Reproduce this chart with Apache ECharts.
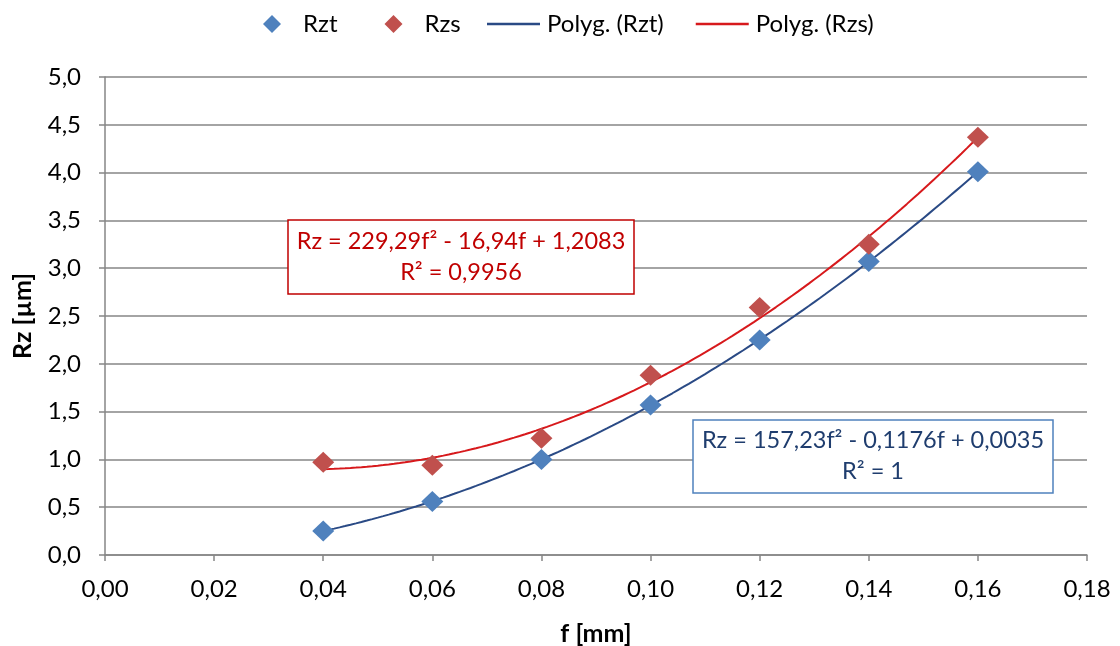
<!DOCTYPE html>
<html><head><meta charset="utf-8">
<script src="https://cdn.jsdelivr.net/npm/echarts@6/dist/echarts.min.js"></script>
<style>html,body{margin:0;padding:0;background:#fff}#c{width:1120px;height:646px}</style>
</head><body><div id="c"></div>
<script>
const fValues = [0.04, 0.06, 0.08, 0.10, 0.12, 0.14, 0.16];
const rztValues = [0.25, 0.56, 1.00, 1.57, 2.25, 3.07, 4.01];
const rzsValues = [0.97, 0.94, 1.22, 1.88, 2.59, 3.25, 4.37];
// trendline coefficients as printed in the chart: a*f^2 + b*f + c
const rztCoef = [157.23, -0.1176, 0.0035];
const rzsCoef = [229.29, -16.94, 1.2083];
const seriesNames = ['Rzt', 'Rzs', 'Polyg. (Rzt)', 'Polyg. (Rzs)'];

function trend(coef) {
  const pts = [];
  const f0 = fValues[0], f1 = fValues[fValues.length - 1];
  const n = 120;
  for (let i = 0; i <= n; i++) {
    const f = f0 + (f1 - f0) * i / n;
    pts.push([f, coef[0] * f * f + coef[1] * f + coef[2]]);
  }
  return pts;
}
const FONT = 'Lato, "Open Sans", sans-serif';
const BLUE = '#4F81BD', RED = '#C0504D', BLUE_L = '#2A4A85', RED_L = '#D7191C';
const chart = echarts.init(document.getElementById('c'), null, {renderer: 'canvas'});
const fmtX = v => v.toFixed(2).replace('.', ',');
const fmtY = v => v.toFixed(1).replace('.', ',');
chart.setOption({
  animation: false,
  backgroundColor: '#fff',
  textStyle: {fontFamily: FONT},
  legend: [
    {
      top: 7, left: 258, itemGap: 47, itemWidth: 18, itemHeight: 18,
      textStyle: {fontSize: 24, color: '#000', fontFamily: FONT, padding: [0, 0, 0, 17]},
      data: [
        {name: seriesNames[0], icon: 'diamond'},
        {name: seriesNames[1], icon: 'diamond'}
      ]
    },
    {
      top: 7, left: 482, itemGap: 32, itemWidth: 53, itemHeight: 18,
      textStyle: {fontSize: 24, color: '#000', fontFamily: FONT, padding: [0, 0, 0, 2]},
      data: [
        {name: seriesNames[2], icon: 'path://M0,8 H53 V10.5 H0 Z'},
        {name: seriesNames[3], icon: 'path://M0,8 H53 V10.5 H0 Z'}
      ]
    }
  ],
  grid: {left: 105, right: 33, top: 77, bottom: 91, outerBoundsMode: 'none', containLabel: false},
  xAxis: {
    type: 'value', min: 0, max: 0.18, interval: 0.02,
    name: 'f [mm]', nameLocation: 'middle', nameGap: 66,
    nameTextStyle: {fontSize: 25, fontWeight: 'bold', color: '#000', fontFamily: FONT},
    axisLine: {lineStyle: {color: '#868686', width: 1.5}},
    axisTick: {show: true, length: 6, lineStyle: {color: '#868686', width: 1.5}},
    axisLabel: {formatter: fmtX, fontSize: 24, color: '#000', margin: 22, fontFamily: FONT},
    splitLine: {show: false}
  },
  yAxis: {
    type: 'value', min: 0, max: 5, interval: 0.5,
    name: 'Rz [µm]', nameLocation: 'middle', nameGap: 70,
    nameTextStyle: {fontSize: 25, fontWeight: 'bold', color: '#000', fontFamily: FONT},
    axisLine: {show: true, lineStyle: {color: '#868686', width: 1.5}},
    axisTick: {show: true, length: 6, lineStyle: {color: '#868686', width: 1.5}},
    axisLabel: {formatter: fmtY, fontSize: 24, color: '#000', margin: 24, fontFamily: FONT},
    splitLine: {show: true, lineStyle: {color: '#868686', width: 1.5}}
  },
  series: [
    {name: seriesNames[2], type: 'line', data: trend(rztCoef), showSymbol: false, symbol: 'none',
     lineStyle: {color: BLUE_L, width: 2}, itemStyle: {color: BLUE_L}, z: 2},
    {name: seriesNames[3], type: 'line', data: trend(rzsCoef), showSymbol: false, symbol: 'none',
     lineStyle: {color: RED_L, width: 2}, itemStyle: {color: RED_L}, z: 2},
    {name: seriesNames[0], type: 'scatter', symbol: 'diamond', symbolSize: [22, 21],
     data: fValues.map((f, i) => [f, rztValues[i]]), itemStyle: {color: BLUE, opacity: 1}, z: 3},
    {name: seriesNames[1], type: 'scatter', symbol: 'diamond', symbolSize: [22, 21],
     data: fValues.map((f, i) => [f, rzsValues[i]]), itemStyle: {color: RED, opacity: 1}, z: 3}
  ],
  graphic: [
    {type: 'rect', z: 10, shape: {x: 288, y: 220, width: 346, height: 74},
     style: {fill: '#fff', stroke: '#C00000', lineWidth: 1.5}},
    {type: 'text', z: 11,
     style: {x: 461, y: 226, text: 'Rz = 229,29f² - 16,94f + 1,2083\nR² = 0,9956', fill: '#C00000',
       font: '23.5px ' + FONT, align: 'center', textAlign: 'center', lineHeight: 31}},
    {type: 'rect', z: 10, shape: {x: 693, y: 420, width: 360, height: 73},
     style: {fill: '#fff', stroke: '#4F81BD', lineWidth: 1.5}},
    {type: 'text', z: 11,
     style: {x: 873, y: 425, text: 'Rz = 157,23f² - 0,1176f + 0,0035\nR² = 1', fill: '#1F3D6E',
       font: '23.5px ' + FONT, align: 'center', textAlign: 'center', lineHeight: 31}}
  ]
});
</script></body></html>
